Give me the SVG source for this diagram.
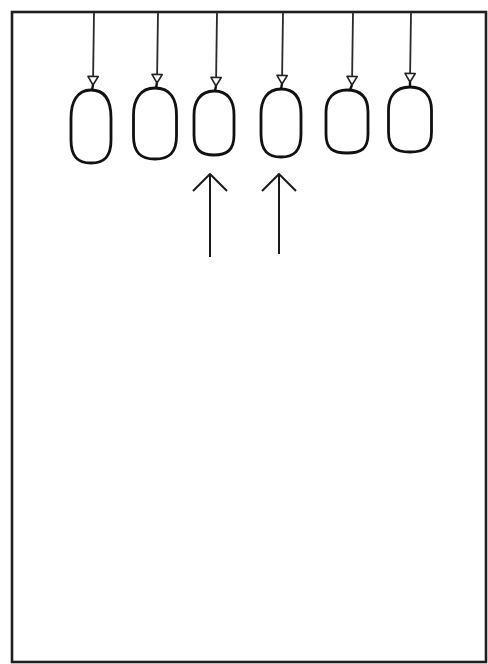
<svg xmlns="http://www.w3.org/2000/svg" width="488" height="664" viewBox="0 0 488 664">
<style>
.frame{fill:none;stroke:#1e1e1e;stroke-width:2.6}
.bag{fill:#fff;stroke:#111;stroke-width:2.8;stroke-linejoin:round}
.hang{stroke:#2a2a2a;stroke-width:1.8;fill:none}
.up{stroke:#1a1a1a;stroke-width:2;fill:none}
.knot{stroke:#111;stroke-width:2.4;fill:none}
</style>
<defs>
<marker id="tri" viewBox="0 0 14 14" markerWidth="12" markerHeight="12" refX="12" refY="7" orient="auto" markerUnits="userSpaceOnUse">
<path d="M2 1 L12 7 L2 13 Z" fill="#fff" stroke="#222" stroke-width="1.8" stroke-linejoin="round"/>
</marker>
<marker id="chev" viewBox="0 0 20 38" markerWidth="20" markerHeight="38" refX="18" refY="19" orient="auto" markerUnits="userSpaceOnUse">
<path d="M1 2 L18 19 L1 36" fill="none" stroke="#1a1a1a" stroke-width="2" stroke-linejoin="round"/>
</marker>
</defs>
<rect class="frame" x="12" y="12" width="474" height="650"/>
<g id="connectors">
<line class="hang" x1="94" y1="12" x2="93" y2="85" marker-end="url(#tri)"/>
<line class="hang" x1="158" y1="12" x2="157" y2="83" marker-end="url(#tri)"/>
<line class="hang" x1="217" y1="12" x2="216" y2="86" marker-end="url(#tri)"/>
<line class="hang" x1="283" y1="12" x2="282" y2="84" marker-end="url(#tri)"/>
<line class="hang" x1="353" y1="12" x2="352" y2="85" marker-end="url(#tri)"/>
<line class="hang" x1="411" y1="12" x2="410" y2="82" marker-end="url(#tri)"/>
<line class="up" x1="210" y1="257" x2="210" y2="174" marker-end="url(#chev)"/>
<line class="up" x1="279" y1="254" x2="279" y2="174" marker-end="url(#chev)"/>
</g>
<g id="node1"><path class="bag" d="M 91 90 C 106 90 111 102 111 118 L 111 140 C 111 157 104 163 91 163 C 78 163 71 157 71 140 L 71 118 C 71 102 77 90 91 90 Z"/><path class="knot" d="M93 85 L92 90"/></g>
<g id="node2"><path class="bag" d="M 155 88 C 171 88 176.5 100 176.5 115 L 176.5 136 C 176.5 153 169 159 155 159 C 141 159 133.5 153 133.5 136 L 133.5 115 C 133.5 100 140 88 155 88 Z"/><path class="knot" d="M157 83 L156 88"/></g>
<g id="node3"><path class="bag" d="M 214 91 C 229 91 234 102 234 115 L 234 135 C 234 150 227 155 214 155 C 201 155 194 150 194 135 L 194 115 C 194 102 200 91 214 91 Z"/><path class="knot" d="M216 86 L215 91"/></g>
<g id="node4"><path class="bag" d="M 281 89 C 296 89 301 100 301 114 L 301 134 C 301 151 294 157 281 157 C 268 157 261 151 261 134 L 261 114 C 261 100 267 89 281 89 Z"/><path class="knot" d="M282 84 L281 89"/></g>
<g id="node5"><path class="bag" d="M 347 90 C 362 90 368 99 368 112 L 368 134 C 368 149 361 153 347 153 C 333 153 326 149 326 134 L 326 112 C 326 99 333 90 347 90 Z"/><path class="knot" d="M352 85 L350 90"/></g>
<g id="node6"><path class="bag" d="M 410 87 C 425 87 431.5 97 431.5 110 L 431.5 132 C 431.5 148 424 152 410 152 C 396 152 388.5 148 388.5 132 L 388.5 110 C 388.5 97 395 87 410 87 Z"/><path class="knot" d="M410 82 L410 87"/></g>
</svg>
